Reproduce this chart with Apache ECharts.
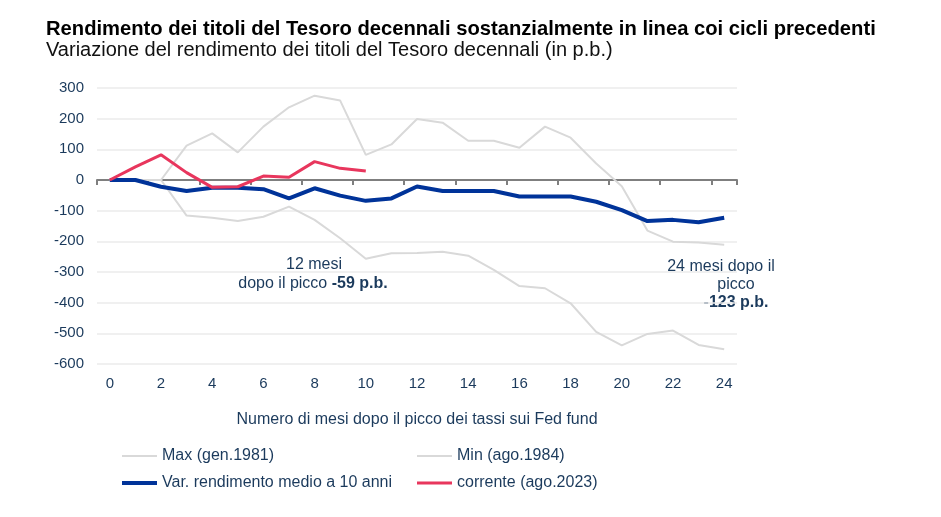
<!DOCTYPE html>
<html><head><meta charset="utf-8">
<script src="https://cdn.jsdelivr.net/npm/echarts@6/dist/echarts.min.js"></script>
<style>html,body{margin:0;padding:0;background:#fff}#c{width:941px;height:517px}</style>
</head><body><div id="c"></div>
<script>
const months = ['0','1','2','3','4','5','6','7','8','9','10','11','12','13','14','15','16','17','18','19','20','21','22','23','24'];
const maxSeries = [0,0,0,112,152,90,174,237,275,259,82,116,199,187,128,128,105,174,138,54,-20,-165,-201,-204,-211];
const minSeries = [0,0,0,-116,-123,-134,-120,-87,-130,-190,-257,-239,-238,-234,-247,-293,-346,-353,-402,-495,-539,-502,-491,-538,-552];
const avgSeries = [0,0,-22,-36,-25,-25,-30,-60,-27,-51,-68,-60,-21,-36,-36,-36,-54,-54,-54,-71,-98,-134,-130,-138,-123];
const currentSeries = [0,43,82,24,-24,-22,13,9,60,38,29];
const yTicks = [-600,-500,-400,-300,-200,-100,0,100,200,300];

const txt = '#1b3a5c';
const FF = 'Liberation Sans, Arial, sans-serif';
function leg(name,left,top,h){
  return {orient:'vertical',left:left,top:top,itemWidth:35,itemHeight:h,icon:'rect',padding:0,
    textStyle:{fontSize:16,color:txt,fontFamily:FF},data:[name]};
}
const chart = echarts.init(document.getElementById('c'));
chart.setOption({
  animation:false,
  textStyle:{fontFamily:FF},
  title:[
    {text:'Rendimento dei titoli del Tesoro decennali sostanzialmente in linea coi cicli precedenti',left:41,top:14,textStyle:{fontSize:20.2,fontWeight:'bold',color:'#000',fontFamily:FF}},
    {text:'Variazione del rendimento dei titoli del Tesoro decennali (in p.b.)',left:41,top:35,textStyle:{fontSize:20,fontWeight:'normal',color:'#111',fontFamily:FF}}
  ],
  grid:{left:97,right:204,top:88,bottom:153},
  xAxis:{type:'category',data:months,boundaryGap:true,
    name:'Numero di mesi dopo il picco dei tassi sui Fed fund',nameLocation:'middle',nameGap:48,
    nameTextStyle:{fontSize:16,color:txt},
    axisLine:{onZero:true,lineStyle:{color:'#7f7f7f',width:2}},
    axisTick:{show:true,interval:1,length:5,lineStyle:{color:'#7f7f7f',width:2}},
    axisLabel:{interval:1,fontSize:15,color:txt,margin:12},
    splitLine:{show:false}
  },
  yAxis:{type:'value',min:-600,max:300,interval:100,
    axisLabel:{fontSize:15,color:txt,margin:13,formatter:(v)=>yTicks.includes(v)?String(v):''},
    axisLine:{show:false},axisTick:{show:false},
    splitLine:{lineStyle:{color:'#ebebeb',width:1.5}}
  },
  legend:[
    leg('Max (gen.1981)',122,448,2),
    leg('Var. rendimento medio a 10 anni',122,475,4),
    leg('Min (ago.1984)',417,448,2),
    leg('corrente (ago.2023)',417,475,3)
  ],
  series:[
    {name:'Max (gen.1981)',type:'line',data:maxSeries,symbol:'none',lineStyle:{color:'#d9d9d9',width:2},itemStyle:{color:'#d9d9d9'},z:1},
    {name:'Min (ago.1984)',type:'line',data:minSeries,symbol:'none',lineStyle:{color:'#d9d9d9',width:2},itemStyle:{color:'#d9d9d9'},z:1},
    {name:'Var. rendimento medio a 10 anni',type:'line',data:avgSeries,symbol:'none',lineStyle:{color:'#003399',width:4},itemStyle:{color:'#003399'},z:3},
    {name:'corrente (ago.2023)',type:'line',data:currentSeries,symbol:'none',lineStyle:{color:'#e8365d',width:3},itemStyle:{color:'#e8365d'},z:4}
  ],
  graphic:[
    {type:'text',x:314,y:257,style:{text:'12 mesi',fontSize:16,fill:txt,textAlign:'center',fontFamily:FF}},
    {type:'text',x:313,y:276,style:{rich:{n:{fontSize:16,fill:txt,fontFamily:FF},b:{fontSize:16,fontWeight:'bold',fill:txt,fontFamily:FF}},text:'{n|dopo il picco }{b|-59 p.b.}',textAlign:'center'}},
    {type:'text',x:721,y:259,style:{text:'24 mesi dopo il',fontSize:16,fill:txt,textAlign:'center',fontFamily:FF}},
    {type:'text',x:736,y:277,style:{text:'picco',fontSize:16,fill:txt,textAlign:'center',fontFamily:FF}},
    {type:'text',x:736,y:295,style:{text:'-123 p.b.',fontSize:16,fontWeight:'bold',fill:txt,textAlign:'center',fontFamily:FF}}
  ]
});
</script></body></html>
